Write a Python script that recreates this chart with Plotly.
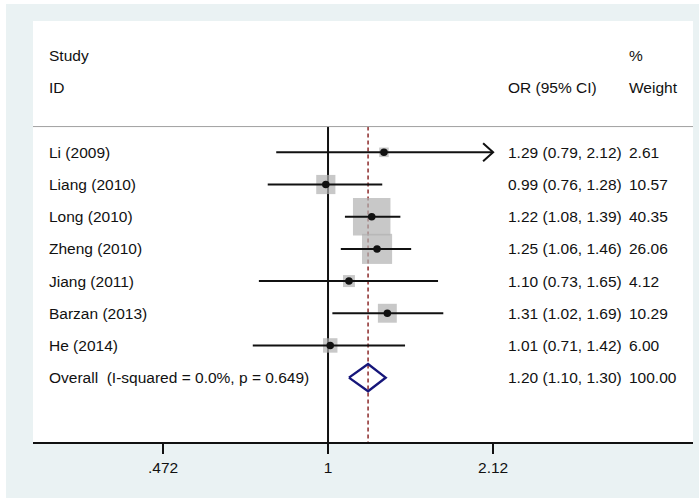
import plotly.graph_objects as go
import math

studies = ["Li (2009)", "Liang (2010)", "Long (2010)", "Zheng (2010)",
           "Jiang (2011)", "Barzan (2013)", "He (2014)"]
or_vals = [1.29, 0.99, 1.22, 1.25, 1.10, 1.31, 1.01]
ci_low = [0.79, 0.76, 1.08, 1.06, 0.73, 1.02, 0.71]
ci_high = [2.12, 1.28, 1.39, 1.46, 1.65, 1.69, 1.42]
weights = [2.61, 10.57, 40.35, 26.06, 4.12, 10.29, 6.00]
overall_label = "Overall  (I-squared = 0.0%, p = 0.649)"
overall_or = 1.20
overall_low = 1.10
overall_high = 1.30
overall_weight = 100.00
tick_vals = [0.472, 1, 2.12]
tick_text = [".472", "1", "2.12"]
axis_max = 2.12

rows = list(range(1, len(studies) + 1))
overall_row = len(studies) + 1

FONT = "Liberation Sans, Arial, sans-serif"
FS = 15.5
TXT = "#111111"

fig = go.Figure()

# reference line at 1 and overall dashed line
fig.add_trace(go.Scatter(x=[1, 1], y=[0.2, 10], mode="lines",
                         line=dict(color="#111111", width=2), hoverinfo="skip"))
fig.add_trace(go.Scatter(x=[overall_or, overall_or], y=[0.2, 10], mode="lines",
                         line=dict(color="#8c2a2a", width=1.5, dash="4px,3px"),
                         hoverinfo="skip"))

# weight boxes
k = 5.9
fig.add_trace(go.Scatter(x=or_vals, y=rows, mode="markers",
                         marker=dict(symbol="square", color="#b0b0b0",
                                     size=[k * math.sqrt(w) for w in weights],
                                     line=dict(width=0)),
                         hoverinfo="skip"))

# CI lines
for i, r in enumerate(rows):
    hi = min(ci_high[i], axis_max)
    fig.add_trace(go.Scatter(x=[ci_low[i], hi], y=[r, r], mode="lines",
                             line=dict(color="#111111", width=2), hoverinfo="skip"))
    if ci_high[i] >= axis_max:
        back = math.exp(-10 / 219.7)
        fig.add_trace(go.Scatter(x=[axis_max * back, axis_max, axis_max * back],
                                 y=[r - 0.28, r, r + 0.28], mode="lines",
                                 line=dict(color="#111111", width=2),
                                 hoverinfo="skip"))

# point estimates
fig.add_trace(go.Scatter(x=or_vals, y=rows, mode="markers",
                         marker=dict(symbol="circle", color="#111111", size=7.5),
                         hoverinfo="skip"))

# overall diamond
h = 0.42
fig.add_trace(go.Scatter(x=[overall_low, overall_or, overall_high, overall_or, overall_low],
                         y=[overall_row, overall_row - h, overall_row, overall_row + h, overall_row],
                         mode="lines", line=dict(color="#16167a", width=2.4),
                         hoverinfo="skip"))

ann = []
def add_text(x, y, t):
    ann.append(dict(x=x, y=y, xref="paper", yref="y", text=t, showarrow=False,
                    xanchor="left", yanchor="middle",
                    font=dict(family=FONT, size=FS, color=TXT)))

x_study = 0.0205
x_or = 0.716
x_w = 0.8995
add_text(x_study, -2, "Study")
add_text(x_study, -1, "ID")
add_text(x_w, -2, "%")
add_text(x_or, -1, "OR (95% CI)")
add_text(x_w, -1, "Weight")
for i, r in enumerate(rows):
    add_text(x_study, r, studies[i])
    add_text(x_or, r, f"{or_vals[i]:.2f} ({ci_low[i]:.2f}, {ci_high[i]:.2f})")
    add_text(x_w, r, f"{weights[i]:.2f}")
add_text(x_study, overall_row, overall_label)
add_text(x_or, overall_row, f"{overall_or:.2f} ({overall_low:.2f}, {overall_high:.2f})")
add_text(x_w, overall_row, f"{overall_weight:.2f}")

shapes = [
    dict(type="rect", xref="paper", yref="paper", x0=-0.0409, x1=1.0091,
         y0=-0.133, y1=1.0404, fillcolor="#EAF2F3", line=dict(width=0), layer="below"),
    dict(type="rect", xref="paper", yref="paper", x0=0, x1=1, y0=0, y1=1,
         fillcolor="#ffffff", line=dict(width=0), layer="below"),
    dict(type="line", xref="paper", yref="y", x0=0, x1=1, y0=0.2, y1=0.2,
         line=dict(color="#a0a0a0", width=1)),
]

fig.update_layout(
    width=699, height=500,
    margin=dict(l=33, r=6, t=21, b=58),
    paper_bgcolor="#ffffff", plot_bgcolor="#ffffff",
    showlegend=False,
    annotations=ann, shapes=shapes,
    xaxis=dict(type="log", range=[-0.5832, 0.7215], tickvals=tick_vals,
               ticktext=tick_text, showgrid=False, zeroline=False,
               showline=True, linecolor="#111111", linewidth=2,
               ticks="outside", ticklen=10, tickwidth=2, tickcolor="#111111",
               tickfont=dict(family=FONT, size=FS, color=TXT)),
    yaxis=dict(range=[10, -3.08], visible=False, showgrid=False, zeroline=False),
)

fig.write_html("out.html", config={"displayModeBar": False},
               post_script="document.body.style.margin='0';")
